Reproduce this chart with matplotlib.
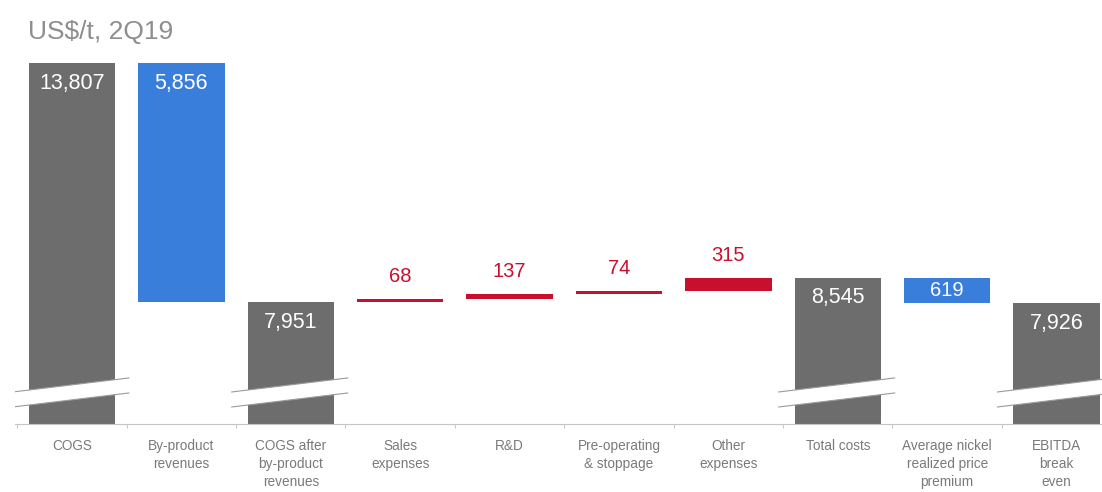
import numpy as np
import matplotlib.pyplot as plt
from matplotlib.patches import Polygon

plt.rcParams['font.family'] = ['Liberation Sans', 'DejaVu Sans']

#Categories of the break even waterfall and their values in US$/t.
categories = ["COGS", "By-product\nrevenues", "COGS after\nby-product\nrevenues", "Sales\nexpenses",
              "R&D", "Pre-operating\n& stoppage", "Other\nexpenses", "Total costs",
              "Average nickel\nrealized price\npremium", "EBITDA\nbreak\neven"]
values = [13807, 5856, 7951, 68, 137, 74, 315, 8545, 619, 7926]
kinds = ["total", "down", "total", "up", "up", "up", "up", "total", "down", "total"]
labels = ["13,807", "5,856", "7,951", "68", "137", "74", "315", "8,545", "619", "7,926"]

grey = "#6d6d6d"
blue = "#3a7edc"
red = "#c8102e"

#Working out where each bar starts and how tall it is.
bottoms = []
heights = []
running = 0
for v, k in zip(values, kinds):
    if k == "total":
        bottoms.append(0)
        running = v
    elif k == "down":
        running = running - v
        bottoms.append(running)
    else:
        bottoms.append(running)
        running = running + v
    heights.append(v)

colours = [grey if k == "total" else (blue if k == "down" else red) for k in kinds]

fig = plt.figure(figsize=(11.02, 4.92), dpi=100)
ax = fig.add_axes([15/1102, 68/492, 1087/1102, 424/492])

x = np.arange(len(categories))
ax.bar(x, heights, bottom=bottoms, width=0.79, color=colours, zorder=2)

#The axis is broken, so it starts well above zero.
ax.set_ylim(4961, 15351)
ax.set_xlim(-0.521, 9.415)

#White slanted band across each total bar to show the axis break.
for i in range(len(categories)):
    if kinds[i] != "total":
        continue
    x0 = i - 0.54
    x1 = i + 0.52
    y0 = 5378
    y1 = 5721
    band = 368
    ax.add_patch(Polygon([[x0, y0], [x1, y1], [x1, y1 + band], [x0, y0 + band]],
                         closed=True, facecolor="white", edgecolor="none", zorder=3))
    ax.plot([x0, x1], [y0, y1], color="#9a9a9a", lw=0.8, zorder=4)
    ax.plot([x0, x1], [y0 + band, y1 + band], color="#9a9a9a", lw=0.8, zorder=4)

#Value labels: inside the grey/blue bars, above the red ones.
for i in range(len(categories)):
    top = bottoms[i] + heights[i]
    if kinds[i] == "up":
        ax.annotate(labels[i], (x[i], top), xytext=(0, 16), textcoords="offset points",
                    ha="center", va="center", color=red, fontsize=14.5)
    elif heights[i] < 1000:
        ax.text(x[i], bottoms[i] + heights[i] / 2, labels[i], ha="center", va="center",
                color="white", fontsize=14.5)
    else:
        ax.annotate(labels[i], (x[i], top), xytext=(0, -14.5), textcoords="offset points",
                    ha="center", va="center", color="white", fontsize=15.5)

ax.text(13/1087, 1 - 32/424, "US$/t, 2Q19", transform=ax.transAxes, ha="left", va="center",
        color="#8e8e8e", fontsize=19)

ax.set_xticks(x)
ax.set_xticklabels(categories, fontsize=9.8, color="#7a7a7a", linespacing=1.35)
ax.tick_params(axis="x", length=0, pad=11)
ax.set_xticks(np.arange(-0.5, 9.5, 1.0), minor=True)
ax.tick_params(axis="x", which="minor", length=3, color="#bbbbbb")
ax.set_yticks([])
for side in ["top", "right", "left"]:
    ax.spines[side].set_visible(False)
ax.spines["bottom"].set_color("#c4c4c4")
ax.spines["bottom"].set_linewidth(0.8)

plt.savefig("out.png", dpi=100)
